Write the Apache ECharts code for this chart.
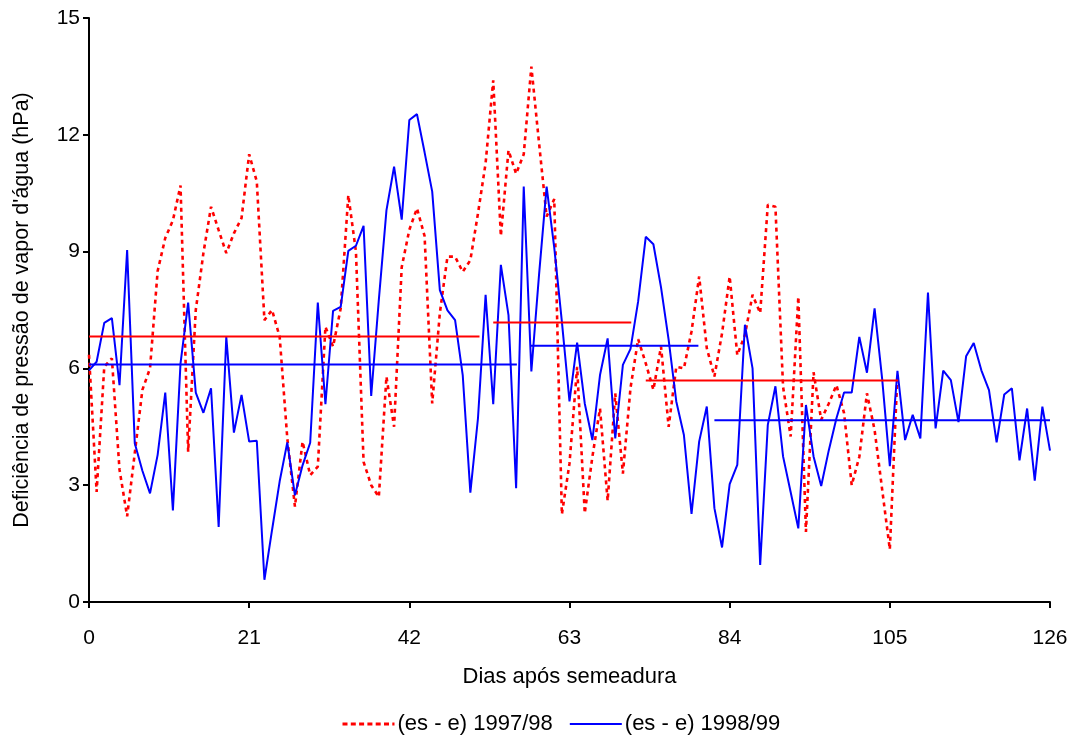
<!DOCTYPE html>
<html>
<head>
<meta charset="utf-8">
<script src="https://cdn.jsdelivr.net/npm/echarts@6/dist/echarts.min.js"></script>
<style>
html,body{margin:0;padding:0;background:#fff;}
#chart{width:1077px;height:740px;}
</style>
</head>
<body>
<div id="chart"></div>
<script>
// Days after sowing
const days = [];
for (let d = 0; d <= 126; d++) days.push(d);

// (es - e) 1997/98  (days 0..106)
const red9798 = [6.35,2.83,6.04,6.26,3.4,2.2,3.82,5.45,6.0,8.5,
  9.35,9.8,10.7,3.86,7.5,8.96,10.15,9.55,8.96,9.47,
  9.86,11.5,10.8,7.24,7.5,6.81,4.2,2.45,4.12,3.26,
  3.48,7.07,6.56,7.54,10.45,9.0,3.6,3.0,2.7,5.79,
  4.5,8.6,9.56,10.11,9.4,5.1,7.42,8.87,8.87,8.48,
  8.78,9.98,11.27,13.4,9.4,11.6,11.0,11.5,13.75,11.8,
  9.9,10.35,2.25,3.56,6.04,2.28,3.73,4.97,2.6,5.36,
  3.3,5.5,6.75,6.13,5.45,6.56,4.5,6.04,6.0,6.95,
  8.36,6.52,5.79,6.9,8.36,6.34,6.86,7.89,7.42,10.2,
  10.15,5.53,4.25,7.84,1.8,5.9,4.68,5.1,5.57,4.85,
  3.0,3.73,5.36,4.42,2.88,1.35,5.87];

// (es - e) 1998/99  (days 0..126)
const blue9899 = [5.95,6.17,7.17,7.29,5.57,9.04,4.08,3.37,2.79,3.78,
  5.38,2.35,6.13,7.69,5.38,4.86,5.49,1.93,6.81,4.35,
  5.32,4.12,4.14,0.57,1.85,3.1,4.1,2.74,3.51,4.09,
  7.69,5.08,7.48,7.58,9.02,9.15,9.66,5.29,7.76,10.06,
  11.18,9.82,12.38,12.53,11.55,10.54,8.01,7.49,7.24,5.83,
  2.81,4.72,7.89,5.08,8.66,7.37,2.92,10.67,5.92,8.39,
  10.67,9.1,7.2,5.15,6.66,5.1,4.16,5.83,6.77,4.2,
  6.09,6.5,7.72,9.38,9.19,8.08,6.73,5.15,4.29,2.26,
  4.12,5.02,2.41,1.4,3.03,3.52,7.12,6.0,0.95,4.55,
  5.54,3.74,2.82,1.89,5.06,3.74,2.98,3.9,4.72,5.38,
  5.38,6.81,5.89,7.54,5.72,3.49,5.94,4.16,4.81,4.20,
  7.95,4.46,5.94,5.70,4.62,6.31,6.65,5.95,5.44,4.10,
  5.33,5.49,3.64,4.97,3.12,5.02,3.89];

// Period means (horizontal segments)
const redMeanFrom = [0, 53, 73];
const redMeanTo = [51.2, 71.1, 106.1];
const redMeanValue = [6.82, 7.18, 5.69];
const blueMeanFrom = [0, 57.9, 82];
const blueMeanTo = [56.1, 79.9, 126];
const blueMeanValue = [6.1, 6.58, 4.67];

const xTicks = [0, 21, 42, 63, 84, 105, 126];
const yTicks = [0, 3, 6, 9, 12, 15];

const seriesNames = ['(es - e) 1997/98', '(es - e) 1998/99'];
const FONT = '"Liberation Sans", Arial, sans-serif';

const chart = echarts.init(document.getElementById('chart'));

const series = [
  {
    name: seriesNames[0],
    type: 'line',
    data: red9798.map((v, i) => [days[i], v]),
    symbol: 'none',
    lineStyle: { color: '#ff0000', width: 2.6, type: [4, 4] },
    itemStyle: { color: '#ff0000' },
    z: 2
  },
  {
    name: seriesNames[1],
    type: 'line',
    data: blue9899.map((v, i) => [days[i], v]),
    symbol: 'none',
    lineStyle: { color: '#0000ff', width: 2 },
    itemStyle: { color: '#0000ff' },
    z: 3
  }
];
redMeanValue.forEach((v, i) => {
  series.push({
    type: 'line', symbol: 'none', silent: true, z: 4,
    data: [[redMeanFrom[i], v], [redMeanTo[i], v]],
    lineStyle: { color: '#ff0000', width: 2 }
  });
});
blueMeanValue.forEach((v, i) => {
  series.push({
    type: 'line', symbol: 'none', silent: true, z: 4,
    data: [[blueMeanFrom[i], v], [blueMeanTo[i], v]],
    lineStyle: { color: '#0000ff', width: 2 }
  });
});

chart.setOption({
  animation: false,
  backgroundColor: '#ffffff',
  textStyle: { fontFamily: FONT, color: '#000' },
  grid: { left: 89, right: 27, top: 18, bottom: 138, containLabel: false },
  legend: {
    data: [
      { name: seriesNames[0], itemStyle: { opacity: 0 }, lineStyle: { width: 3, type: [5, 3.3] } },
      { name: seriesNames[1], itemStyle: { opacity: 0 }, lineStyle: { width: 2 } }
    ],
    left: 336, top: 708,
    itemWidth: 52, itemHeight: 14, itemGap: 16,
    textStyle: { fontFamily: FONT, fontSize: 22, color: '#000', padding: [0, 0, 0, -2] }
  },
  xAxis: {
    type: 'value', min: 0, max: 126, interval: 21,
    name: 'Dias após semeadura',
    nameLocation: 'middle', nameGap: 64,
    nameTextStyle: { fontFamily: FONT, fontSize: 22, color: '#000' },
    axisLine: { lineStyle: { color: '#000', width: 2 } },
    axisTick: { show: true, inside: false, length: 6, lineStyle: { color: '#000', width: 2 } },
    axisLabel: { fontFamily: FONT, fontSize: 21, color: '#000', margin: 26,
      formatter: v => xTicks.includes(v) ? String(v) : '' },
    splitLine: { show: false }
  },
  yAxis: {
    type: 'value', min: 0, max: 15, interval: 3,
    name: "Deficiência de pressão de vapor d'água (hPa)",
    nameLocation: 'middle', nameGap: 56,
    nameTextStyle: { fontFamily: FONT, fontSize: 21.5, color: '#000' },
    axisLine: { show: true, lineStyle: { color: '#000', width: 2 } },
    axisTick: { show: true, inside: false, length: 6, lineStyle: { color: '#000', width: 2 } },
    axisLabel: { fontFamily: FONT, fontSize: 21, color: '#000', margin: 9,
      formatter: v => yTicks.includes(v) ? String(v) : '' },
    splitLine: { show: false }
  },
  series: series
});
</script>
</body>
</html>
